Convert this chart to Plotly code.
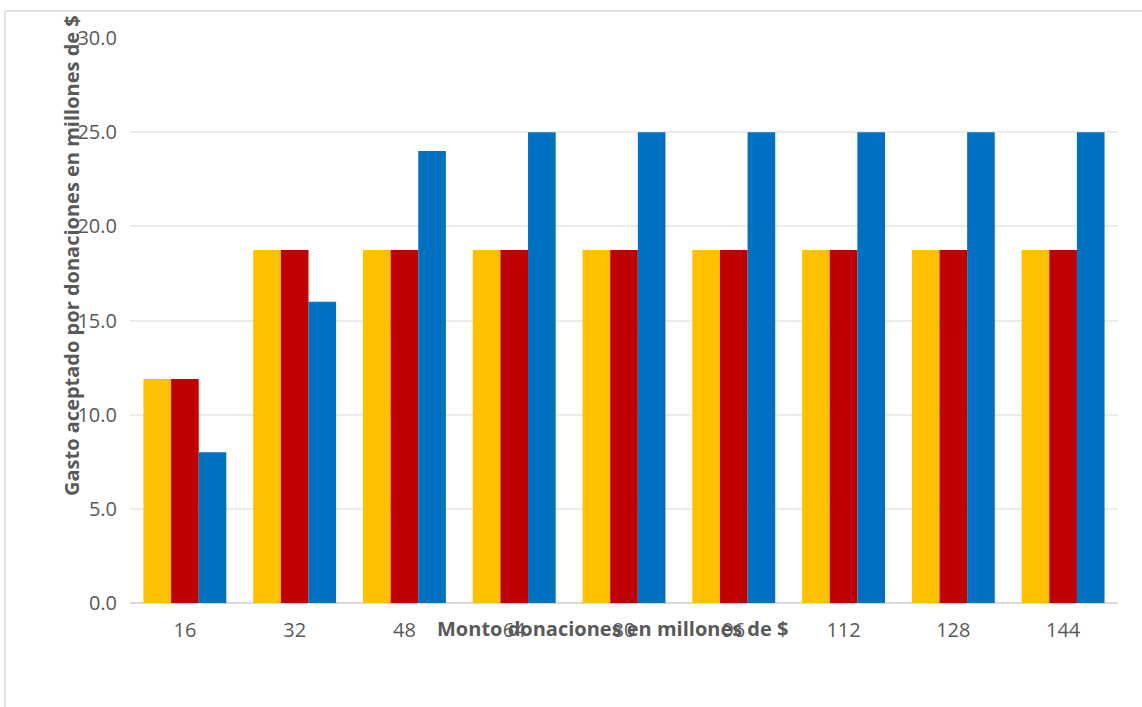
import plotly.graph_objects as go

# Donation amounts (category axis) and accepted spending per scenario
montos = ["16", "32", "48", "64", "80", "96", "112", "128", "144"]
serie_amarilla = [11.9, 18.75, 18.75, 18.75, 18.75, 18.75, 18.75, 18.75, 18.75]
serie_roja = [11.9, 18.75, 18.75, 18.75, 18.75, 18.75, 18.75, 18.75, 18.75]
serie_azul = [8.0, 16.0, 24.0, 25.0, 25.0, 25.0, 25.0, 25.0, 25.0]

colores = ["#FFC000", "#C00000", "#0070C0"]
gris = "#595959"
fuente = "Open Sans"

fig = go.Figure()
for vals, col in zip([serie_amarilla, serie_roja, serie_azul], colores):
    fig.add_trace(go.Bar(x=montos, y=vals, marker=dict(color=col, line=dict(width=0)),
                         showlegend=False))

# Plot area in pixels: x 130..1118, y 38..603
L, R, T, B = 130, 24, 38, 104
W, H = 1142, 707
pw, ph = W - L - R, H - T - B

def px_x(x):
    return (x - L) / pw

def px_y(y):
    return (H - B - y) / ph

fig.update_layout(
    width=W, height=H,
    margin=dict(l=L, r=R, t=T, b=B),
    paper_bgcolor="white", plot_bgcolor="white",
    barmode="group", bargap=0.245, bargroupgap=0,
    font=dict(family=fuente, size=20, color=gris),
    xaxis=dict(showgrid=False, showline=False, ticks="", tickfont=dict(size=20, color=gris),
               ticklabelstandoff=13),
    yaxis=dict(range=[0, 30], dtick=5, tickformat=".1f", showgrid=True,
               gridcolor="#EBEBEB", gridwidth=1.5, zeroline=True, zerolinecolor="#D9D9D9",
               zerolinewidth=2, showline=False, ticks="", ticklabelstandoff=12,
               tickfont=dict(size=20, color=gris)),
    annotations=[
        dict(text="<b>Gasto aceptado por donaciones en millones de $</b>", textangle=-90,
             xref="paper", yref="paper", x=px_x(71), y=px_y(256),
             xanchor="center", yanchor="middle", showarrow=False,
             font=dict(family=fuente, size=20, color=gris)),
        dict(text="<b>Monto donaciones en millones de $</b>",
             xref="paper", yref="paper", x=px_x(612), y=px_y(628),
             xanchor="center", yanchor="middle", showarrow=False,
             font=dict(family=fuente, size=20, color=gris)),
    ],
    shapes=[
        dict(type="line", xref="paper", yref="paper", x0=px_x(5), x1=px_x(1150),
             y0=px_y(11), y1=px_y(11), line=dict(color="#D9D9D9", width=1.5)),
        dict(type="line", xref="paper", yref="paper", x0=px_x(5), x1=px_x(5),
             y0=px_y(11), y1=px_y(720), line=dict(color="#D9D9D9", width=1.5)),
    ],
)

fig.write_html("out.html")
